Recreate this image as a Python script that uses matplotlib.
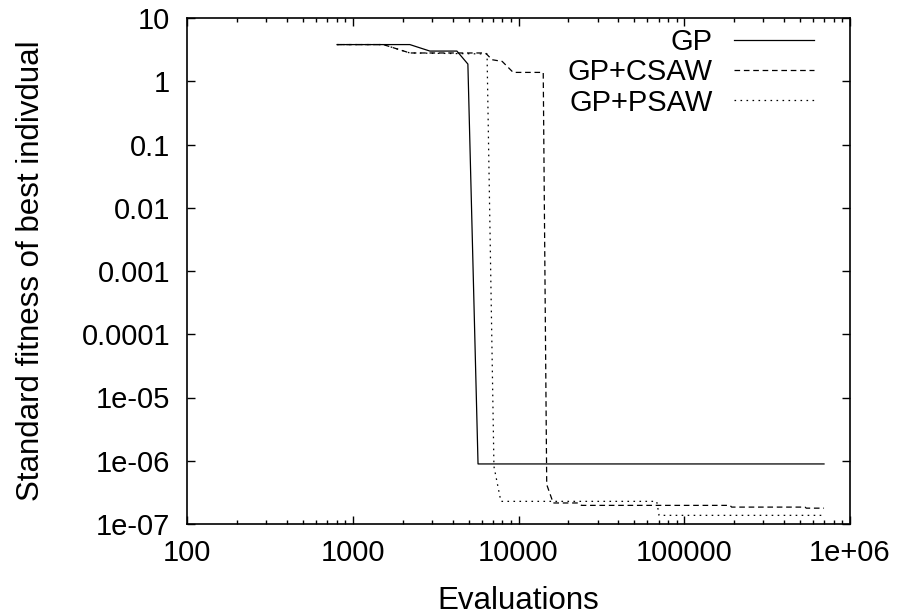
import numpy as np
from matplotlib import pyplot as plt
from matplotlib.ticker import LogLocator, NullFormatter

plt.rcParams['font.family'] = ['Liberation Sans', 'DejaVu Sans']

# GP
gp_x = [804, 2210, 2920, 4250, 4950, 5700, 697000]
gp_y = [3.8, 3.8, 3.0, 3.0, 1.87, 8.9e-7, 8.9e-7]

# GP+CSAW
csaw_x = [804, 1530, 2210, 6320, 6930, 7970, 9290, 14100, 14800, 16200,
          23000, 24000, 189000, 193000, 535000, 545000, 697000]
csaw_y = [3.8, 3.8, 2.8, 2.8, 2.19, 2.06, 1.38, 1.38, 4.2e-7, 2.15e-7,
          2.15e-7, 1.97e-7, 1.97e-7, 1.85e-7, 1.85e-7, 1.78e-7, 1.78e-7]

# GP+PSAW
psaw_x = [804, 1530, 2210, 6460, 7110, 7830, 68200, 70500, 674000]
psaw_y = [3.8, 3.8, 2.8, 2.7, 8.1e-7, 2.28e-7, 2.28e-7, 1.37e-7, 1.37e-7]

xticks = [100, 1000, 10000, 100000, 1000000]
xlabels = ['100', '1000', '10000', '100000', '1e+06']
yticks = [1e-7, 1e-6, 1e-5, 1e-4, 1e-3, 1e-2, 1e-1, 1, 10]
ylabels = ['1e-07', '1e-06', '1e-05', '0.0001', '0.001', '0.01', '0.1', '1', '10']

fs = 21      # tick labels, legend
lfs = 22.5   # axis labels

fig = plt.figure(figsize=(8.99, 6.16), dpi=100)
ax = fig.add_axes([187 / 899, 1 - 524 / 616, 663 / 899, 506 / 616])

ax.plot(gp_x, gp_y, color='black', lw=0.9, linestyle='-', label='GP')
ax.plot(csaw_x, csaw_y, color='black', lw=0.9, linestyle=(0, (4.5, 3)), label='GP+CSAW')
ax.plot(psaw_x, psaw_y, color='black', lw=0.9, linestyle=(0, (1.3, 3.5)), label='GP+PSAW')

ax.set_xscale('log')
ax.set_yscale('log')
ax.set_xlim(100, 1e6)
ax.set_ylim(1e-7, 10)

ax.set_xticks(xticks)
ax.set_xticklabels(xlabels)
ax.set_yticks(yticks)
ax.set_yticklabels(ylabels)
ax.xaxis.set_minor_locator(LogLocator(base=10, subs=np.arange(2, 10)))
ax.yaxis.set_minor_locator(LogLocator(base=10, subs=[2, 5, 8]))
ax.xaxis.set_minor_formatter(NullFormatter())
ax.yaxis.set_minor_formatter(NullFormatter())

ax.tick_params(which='both', direction='in', top=True, right=True, width=1, labelsize=fs)
ax.tick_params(which='major', length=6)
ax.tick_params(which='minor', length=3)
ax.tick_params(axis='x', which='major', pad=11)
ax.tick_params(axis='y', which='major', pad=12)
for s in ax.spines.values():
    s.set_linewidth(1.2)

ax.set_xlabel('Evaluations', fontsize=lfs, va='center')
ax.set_ylabel('Standard fitness of best indivdual', fontsize=lfs, va='center')
ax.xaxis.set_label_coords(0.5, -0.152)
ax.yaxis.set_label_coords(-0.235, 0.5)

ax.legend(loc='upper right', bbox_to_anchor=(814 / 899, 1 - 28 / 616),
          bbox_transform=fig.transFigure, frameon=False, markerfirst=False,
          fontsize=fs, handlelength=2.75, handletextpad=0.72, labelspacing=0.08,
          borderpad=0, borderaxespad=0)

plt.savefig('out.png', dpi=100)
